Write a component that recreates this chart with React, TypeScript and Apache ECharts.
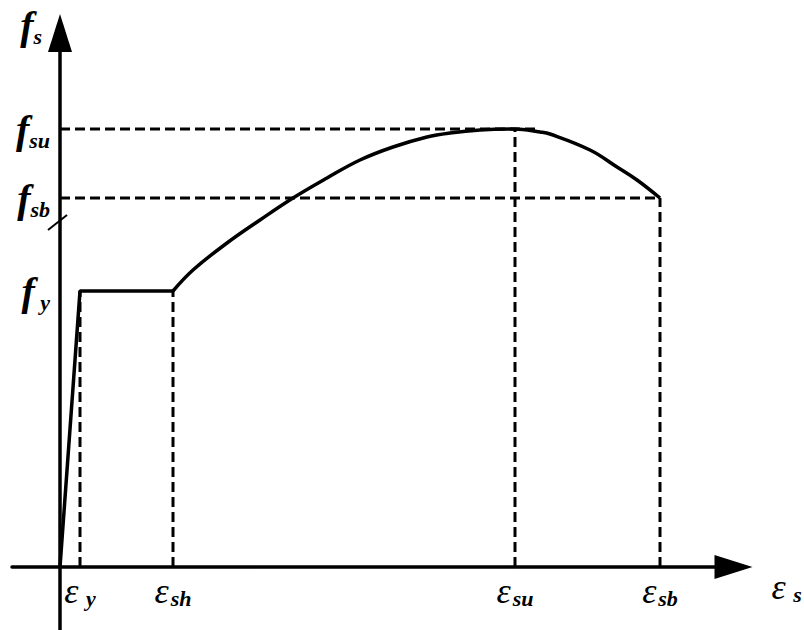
import React, { useEffect, useRef } from "react";
import * as echarts from "echarts";

// Characteristic strains (schematic units)
const strainYield = 20;
const strainHarden = 113;
const strainUlt = 455;
const strainBreak = 600;

// Characteristic stresses (schematic units)
const stressYield = 276;
const stressUlt = 438;
const stressBreak = 369;

// Elastic + yield plateau branch
const elasticStrain = [0, strainYield, strainHarden];
const elasticStress = [0, stressYield, stressYield];

// Strain-hardening / softening branch
const hardeningStrain = [113, 133, 167, 200, 233, 267, 300, 333, 367, 390, 420, 455, 480, 490, 530, 557, 577, 600];
const hardeningStress = [276, 297, 324, 347, 369, 389, 407, 420, 430, 434, 437, 438, 435, 433, 417, 400, 387, 369];

// f_su guide line end
const ultGuideEnd = 480;

// axis ranges (axes extend into the negative region)
const strainMin = -48;
const strainMax = 673.5;
const stressMin = -63;
const stressMax = 534;

// small slash mark on the stress axis
const slashStrain = [-12, 7];
const slashStress = [337, 352];

// Tick labels
const xTickValues = [strainYield, strainHarden, strainUlt, strainBreak];
const xTickLabels = ["{e|ε}{es| y}", "{e|ε}{es|sh}", "{e|ε}{es|su}", "{e|ε}{es|sb}"];
const yTickValues = [stressYield, stressBreak, stressUlt];
const yTickLabels = ["{f|f}{fs| y}", "{f|f}{fs|sb}", "{f|f}{fs|su}"];

const FONT = "'Liberation Serif', 'Times New Roman', serif";

const rich = {
  e: { fontFamily: FONT, fontStyle: "italic", fontSize: 36, color: "#000" },
  es: { fontFamily: FONT, fontStyle: "italic", fontWeight: "bold", fontSize: 22, color: "#000", padding: [14, 0, 0, 2] },
  f: { fontFamily: FONT, fontStyle: "italic", fontWeight: "bold", fontSize: 40, color: "#000" },
  fs: { fontFamily: FONT, fontStyle: "italic", fontWeight: "bold", fontSize: 22, color: "#000", padding: [22, 0, 0, 0] },
};

const zip = (a: number[], b: number[]) => a.map((v, i) => [v, b[i]]);

const dashStyle = { color: "#000", width: 3, type: [10, 5] as number[] };
const solid = { color: "#000", width: 3.5 };

const guides: number[][][] = [
  [[0, stressUlt], [ultGuideEnd, stressUlt]],
  [[0, stressBreak], [strainBreak, stressBreak]],
  [[strainYield, 0], [strainYield, stressYield]],
  [[strainHarden, 0], [strainHarden, stressYield]],
  [[strainUlt, 0], [strainUlt, stressUlt]],
  [[strainBreak, 0], [strainBreak, stressBreak]],
];

export default function App() {
  const ref = useRef<HTMLDivElement>(null);
  useEffect(() => {
    const chart = echarts.init(ref.current!, null, { renderer: "svg" });
    const hidden = { show: false };
    const option: any = {
      animation: false,
      backgroundColor: "#fff",
      grid: [
        { left: 12, top: 33, right: 70.5, bottom: 0, outerBoundsMode: "none" },
        { left: 60, top: 33, right: 70.5, bottom: 63, outerBoundsMode: "none" },
      ],
      xAxis: [
        {
          gridIndex: 0,
          type: "value",
          min: strainMin,
          max: strainMax,
          splitLine: hidden,
          axisTick: hidden,
          axisLabel: hidden,
          axisLine: {
            onZero: true,
            lineStyle: solid,
            symbol: ["none", "triangle"],
            symbolSize: [24, 38],
          },
        },
        {
          gridIndex: 1,
          type: "value",
          min: 0,
          max: strainMax,
          splitLine: hidden,
          axisTick: hidden,
          axisLine: hidden,
          axisLabel: {
            customValues: xTickValues,
            formatter: (v: number) => xTickLabels[xTickValues.indexOf(v)] ?? "",
            margin: 6,
            color: "#000",
            rich,
          },
          name: "{e|ε}{es| s}",
          nameLocation: "end",
          nameGap: 38,
          nameMoveOverlap: false,
          nameTextStyle: { color: "#000", align: "left", verticalAlign: "middle", padding: [40, 0, 0, 0], rich },
        },
      ],
      yAxis: [
        {
          gridIndex: 0,
          type: "value",
          min: stressMin,
          max: stressMax,
          splitLine: hidden,
          axisTick: hidden,
          axisLabel: hidden,
          axisLine: {
            onZero: true,
            lineStyle: solid,
            symbol: ["none", "triangle"],
            symbolSize: [24, 38],
          },
        },
        {
          gridIndex: 1,
          type: "value",
          min: 0,
          max: stressMax,
          splitLine: hidden,
          axisTick: hidden,
          axisLine: hidden,
          axisLabel: {
            customValues: yTickValues,
            formatter: (v: number) => yTickLabels[yTickValues.indexOf(v)] ?? "",
            margin: 10,
            color: "#000",
            rich,
          },
          name: "{f|f}{fs|s}",
          nameLocation: "end",
          nameGap: 0,
          nameMoveOverlap: false,
          nameTextStyle: { color: "#000", align: "right", verticalAlign: "middle", padding: [0, 18, 16, 0], rich },
        },
      ],
      series: [
        ...guides.map((g) => ({
          type: "line",
          data: g,
          symbol: "none",
          silent: true,
          lineStyle: dashStyle,
          z: 2,
        })),
        {
          type: "line",
          data: zip(slashStrain, slashStress),
          symbol: "none",
          lineStyle: { color: "#000", width: 2 },
          z: 3,
        },
        {
          type: "line",
          data: zip(elasticStrain, elasticStress),
          symbol: "none",
          lineStyle: solid,
          z: 4,
        },
        {
          type: "line",
          data: zip(hardeningStrain, hardeningStress),
          symbol: "none",
          smooth: 0.4,
          lineStyle: solid,
          z: 4,
        },
      ],
    };
    chart.setOption(option);
    return () => chart.dispose();
  }, []);
  return <div ref={ref} style={{ position: "absolute", left: 0, top: 0, width: 804, height: 630 }} />;
}
